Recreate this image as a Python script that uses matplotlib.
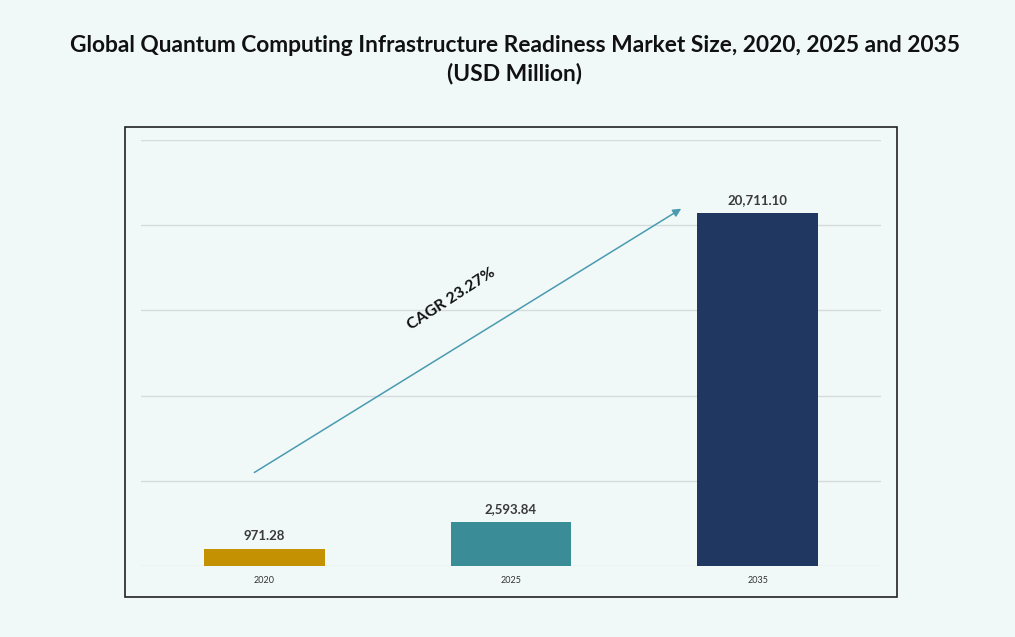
import matplotlib.pyplot as plt
from matplotlib.patches import Rectangle

# Data
years = ['2020', '2025', '2035']
values = [971.28, 2593.84, 20711.10]
value_labels = ['971.28', '2,593.84', '20,711.10']
bar_colors = ['#c49102', '#3a8c96', '#1f3761']
cagr_text = 'CAGR 23.27%'

bg = '#f0f8f8'
plt.rcParams['font.family'] = ['Lato', 'DejaVu Sans']

fig = plt.figure(figsize=(10.15, 6.37), dpi=100, facecolor=bg)

# outer frame around the plot area
fig.patches.append(Rectangle((0.1232, 0.0628), 0.7606, 0.738, transform=fig.transFigure,
                             fill=False, edgecolor='#222222', linewidth=1.2))

ax = fig.add_axes([0.1389, 0.1115, 0.729, 0.6688])
ax.set_facecolor(bg)

x = range(len(years))
ax.bar(x, values, width=0.49, color=bar_colors, zorder=3)

for xi, v, lab in zip(x, values, value_labels):
    ax.text(xi, v + 420, lab, ha='center', va='bottom', fontsize=9.5,
            fontweight='bold', color='#3a3a3a')

ax.set_xlim(-0.5, 2.5)
ax.set_ylim(0, 25000)
ax.set_yticks(range(0, 25001, 5000))
ax.yaxis.grid(True, color='#d6dcdc', linewidth=1.0)
ax.set_axisbelow(True)
ax.tick_params(axis='y', left=False, labelleft=False)
ax.tick_params(axis='x', bottom=False, labelsize=6.5, labelcolor='#333333', pad=4)
ax.set_xticks(list(x))
ax.set_xticklabels(years)
for s in ax.spines.values():
    s.set_visible(False)

# CAGR arrow
ax.annotate('', xy=(1.70, 21050), xytext=(-0.05, 5400),
            arrowprops=dict(arrowstyle='-|>', color='#4a9bb0', lw=1.1,
                            mutation_scale=12), zorder=4)
ax.text(0.76, 15650, cagr_text, rotation=33, ha='center', va='center',
        fontsize=11.5, fontweight='bold', color='#111111')

fig.text(0.507, 0.928, 'Global Quantum Computing Infrastructure Readiness Market Size, 2020, 2025 and 2035',
         ha='center', va='center', fontsize=16.4, fontweight='bold', color='#111111')
fig.text(0.507, 0.884, '(USD Million)', ha='center', va='center', fontsize=16.4,
         fontweight='bold', color='#111111')

fig.savefig('out.png', dpi=100, facecolor=bg)
